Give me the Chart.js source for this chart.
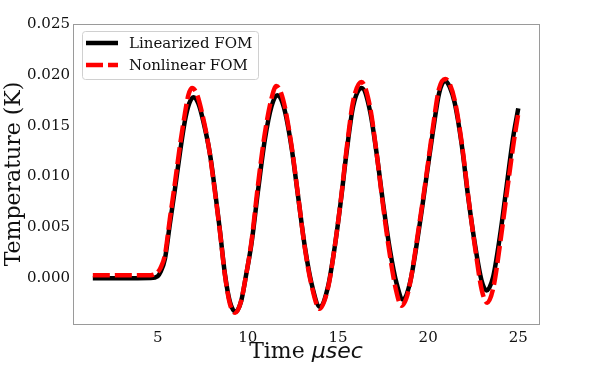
<!DOCTYPE html>
<html>
<head>
<meta charset="utf-8">
<script src="https://cdn.jsdelivr.net/npm/chart.js"></script>
<style>
  html, body { margin: 0; padding: 0; background: white; }
  #wrap { width: 598px; height: 366px; }
</style>
</head>
<body>
<div id="wrap"><canvas id="tempChart" width="598" height="366"></canvas></div>
<script>
// Linearized FOM (black solid)
const linTime = [1.4, 3.0, 4.6, 5.0, 5.15, 5.4, 5.67, 5.95, 6.23, 6.51, 6.75, 6.98, 7.25, 7.52, 7.89, 8.17, 8.45, 8.72, 9.0, 9.32, 9.62, 9.9, 10.2, 10.57, 10.94, 11.31, 11.63, 12.0, 12.42, 12.79, 13.16, 13.53, 13.99, 14.45, 14.82, 15.15, 15.47, 15.84, 16.31, 16.77, 17.14, 17.5, 17.88, 18.25, 18.61, 19.0, 19.54, 19.91, 20.28, 20.61, 20.93, 21.2, 21.48, 21.85, 22.22, 22.59, 22.96, 23.24, 23.6, 23.98, 24.35, 24.72, 25.0];
const linTemp = [0, 0, 0.00002, 0.0002, 0.0006, 0.0019, 0.0053, 0.0087, 0.0123, 0.0155, 0.0172, 0.0178, 0.0172, 0.0155, 0.0123, 0.0087, 0.0047, 0.0005, -0.0023, -0.0033, -0.0023, 0.0003, 0.0034, 0.0087, 0.0136, 0.0169, 0.0180, 0.0168, 0.0129, 0.0080, 0.0031, -0.0005, -0.0028, -0.0008, 0.0031, 0.0075, 0.0123, 0.0169, 0.0187, 0.0165, 0.0123, 0.0074, 0.0028, -0.0005, -0.0021, -0.0004, 0.0054, 0.0100, 0.0146, 0.0182, 0.0194, 0.0188, 0.0172, 0.0133, 0.0080, 0.0034, -0.0002, -0.0012, 0.0001, 0.0041, 0.0090, 0.0139, 0.0167];

// Nonlinear FOM (red dashed)
const nonTime = [1.4, 3.0, 4.6, 4.85, 5.0, 5.15, 5.4, 5.67, 5.95, 6.23, 6.51, 6.7, 6.9, 7.15, 7.45, 7.85, 8.15, 8.45, 8.72, 9.0, 9.3, 9.6, 9.9, 10.2, 10.55, 10.92, 11.3, 11.58, 11.95, 12.4, 12.78, 13.15, 13.52, 13.98, 14.45, 14.82, 15.15, 15.47, 15.84, 16.3, 16.77, 17.12, 17.48, 17.85, 18.2, 18.52, 18.9, 19.5, 19.9, 20.27, 20.6, 20.95, 21.22, 21.5, 21.88, 22.25, 22.62, 22.98, 23.28, 23.62, 24.0, 24.38, 24.75, 25.0];
const nonTemp = [0.0003, 0.0003, 0.0003, 0.0004, 0.0006, 0.0010, 0.0023, 0.0058, 0.0093, 0.0130, 0.0162, 0.0180, 0.0187, 0.0182, 0.0163, 0.0127, 0.0088, 0.0046, 0.0004, -0.0025, -0.0034, -0.0024, 0.0003, 0.0036, 0.0090, 0.0140, 0.0176, 0.0189, 0.0176, 0.0133, 0.0082, 0.0031, -0.0006, -0.0030, -0.0009, 0.0031, 0.0076, 0.0126, 0.0174, 0.0193, 0.0169, 0.0126, 0.0074, 0.0026, -0.0010, -0.0027, -0.0013, 0.0052, 0.0101, 0.0149, 0.0186, 0.0196, 0.0190, 0.0173, 0.0131, 0.0077, 0.0028, -0.0012, -0.0024, -0.0009, 0.0035, 0.0086, 0.0134, 0.0162];

const xTicks = [5, 10, 15, 20, 25];
const yTicks = [0, 0.005, 0.010, 0.015, 0.020, 0.025];
const seriesLabels = ["Linearized FOM", "Nonlinear FOM"];

const serif = "'DejaVu Serif', serif";

function toPoints(xs, ys) {
  return xs.map((x, i) => ({x: x, y: ys[i]}));
}

// frame, legend inside the plot and the mixed-font x title
const extras = {
  id: 'extras',
  afterDraw(chart) {
    const ctx = chart.ctx;
    const a = chart.chartArea;
    ctx.save();
    ctx.strokeStyle = '#9a9a9a';
    ctx.lineWidth = 1;
    ctx.strokeRect(Math.round(a.left) + 0.5, Math.round(a.top) + 0.5, Math.round(a.right - a.left), Math.round(a.bottom - a.top));

    // legend box
    const bx = a.left + 9, by = a.top + 7, bw = 176, bh = 48;
    ctx.fillStyle = 'rgba(255,255,255,0.8)';
    ctx.strokeStyle = '#d0d0d0';
    ctx.beginPath();
    ctx.roundRect(bx + 0.5, by + 0.5, bw, bh, 3);
    ctx.fill();
    ctx.stroke();

    const ds = chart.data.datasets;
    ctx.font = '15px ' + serif;
    ctx.textBaseline = 'middle';
    ctx.textAlign = 'left';
    seriesLabels.forEach((lab, i) => {
      const d = ds[i];
      const ly = by + 12 + i * 22;
      ctx.strokeStyle = d.borderColor;
      ctx.lineWidth = d.borderWidth;
      ctx.setLineDash(d.borderDash || []);
      ctx.lineCap = 'butt';
      ctx.beginPath();
      ctx.moveTo(bx + 4, ly);
      ctx.lineTo(bx + 36, ly);
      ctx.stroke();
      ctx.setLineDash([]);
      ctx.fillStyle = '#111';
      ctx.fillText(lab, bx + 47, ly + 1);
    });

    // x title: "Time" serif + "μsec" italic sans
    const part1 = 'Time ';
    const part2 = 'μsec';
    ctx.textBaseline = 'alphabetic';
    ctx.font = '22px ' + serif;
    const w1 = ctx.measureText(part1).width;
    ctx.font = 'italic 22px "DejaVu Sans", sans-serif';
    const w2 = ctx.measureText(part2).width;
    const cx = (a.left + a.right) / 2;
    const sx = cx - (w1 + w2) / 2;
    ctx.fillStyle = '#111';
    ctx.font = '22px ' + serif;
    ctx.fillText(part1, sx, 358);
    ctx.font = 'italic 22px "DejaVu Sans", sans-serif';
    ctx.fillText(part2, sx + w1, 358);
    ctx.restore();
  }
};

const data = {
  datasets: [{
    label: seriesLabels[0],
    data: toPoints(linTime, linTemp),
    borderColor: '#000000',
    backgroundColor: '#000000',
    borderWidth: 4.5,
    pointRadius: 0,
    cubicInterpolationMode: 'monotone',
    order: 2
  }, {
    label: seriesLabels[1],
    data: toPoints(nonTime, nonTemp),
    borderColor: '#ff0000',
    backgroundColor: '#ff0000',
    borderWidth: 4.5,
    borderDash: [17, 5],
    borderCapStyle: 'butt',
    pointRadius: 0,
    cubicInterpolationMode: 'monotone',
    order: 1
  }]
};

const config = {
  type: 'line',
  data,
  options: {
    responsive: false,
    animation: false,
    events: [],
    layout: {padding: {left: 0, right: 59, top: 24, bottom: 0}},
    plugins: {
      legend: {display: false},
      tooltip: {enabled: false}
    },
    scales: {
      x: {
        type: 'linear',
        min: 0.3,
        max: 26.15,
        afterBuildTicks: s => { s.ticks = xTicks.map(v => ({value: v})); },
        afterFit: s => { s.height = 42; },
        grid: {display: false, drawTicks: false},
        border: {display: false},
        ticks: {
          padding: 5,
          color: '#111',
          font: {family: serif, size: 15},
          callback: v => String(v)
        }
      },
      y: {
        type: 'linear',
        min: -0.0045,
        max: 0.025,
        afterBuildTicks: s => { s.ticks = yTicks.map(v => ({value: v})); },
        afterFit: s => { s.width = 73; },
        grid: {display: false, drawTicks: false},
        border: {display: false},
        title: {
          display: true,
          text: 'Temperature (K)',
          color: '#111',
          font: {family: serif, size: 22},
          padding: {top: 1, bottom: 0}
        },
        ticks: {
          padding: 3,
          color: '#111',
          font: {family: serif, size: 15},
          callback: v => v.toFixed(3)
        }
      }
    }
  },
  plugins: [extras]
};

var myChart = new Chart(document.getElementById('tempChart'), config);
</script>
</body>
</html>
